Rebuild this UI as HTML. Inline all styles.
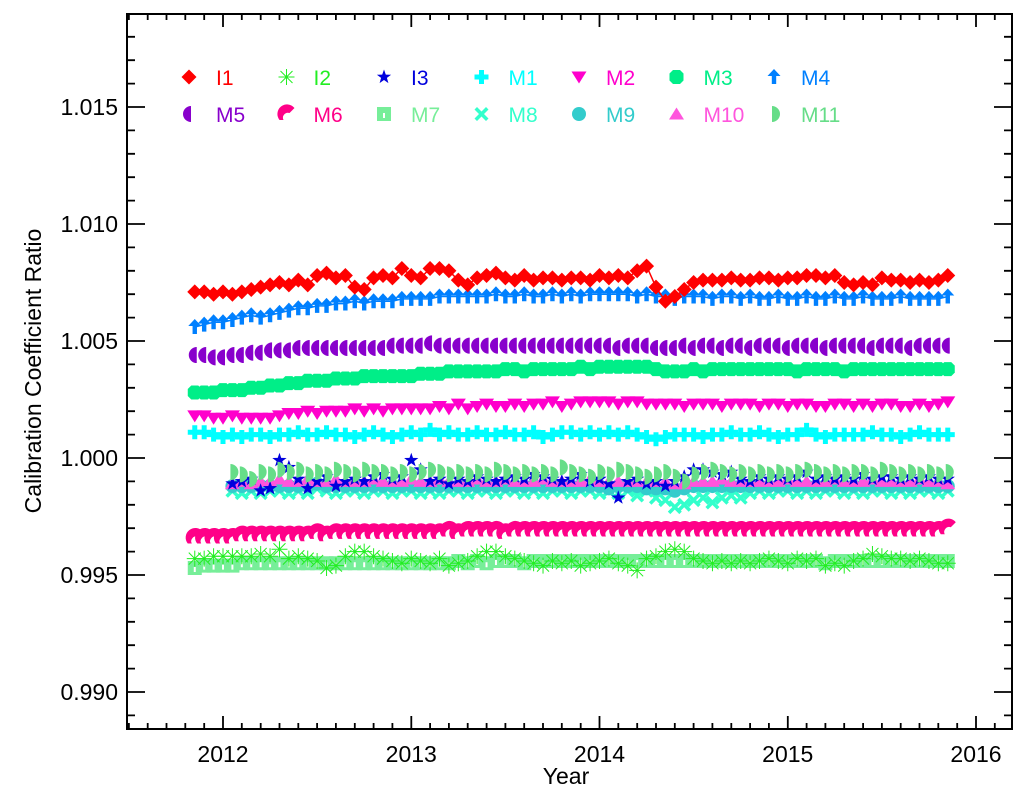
<!DOCTYPE html>
<html><head><meta charset="utf-8"><style>
html,body{margin:0;padding:0;background:#fff;}
svg{display:block;font-family:"Liberation Sans",Arial,sans-serif;}
</style></head><body>
<svg id="chart" width="1024" height="809" viewBox="0 0 1024 809" xmlns="http://www.w3.org/2000/svg">
<rect x="0" y="0" width="1024" height="809" fill="#fff"/>
<g id="plot"></g>
<g id="axes"></g>
<g id="legend"></g>
</svg>
<script>
const yTicks = [0.990, 0.995, 1.000, 1.005, 1.010, 1.015];
const yTickLabels = ["0.990", "0.995", "1.000", "1.005", "1.010", "1.015"];
const xTicks = [2012, 2013, 2014, 2015, 2016];
const xTickLabels = ["2012", "2013", "2014", "2015", "2016"];
const tStart = 2011.85;
const tStep = 0.05;

const I1 = [1.0071,1.0071,1.0070,1.0071,1.0070,1.0071,1.0072,1.0073,1.0074,1.0075,1.0074,
1.0076,1.0074,1.0078,1.0079,1.0077,1.0078,1.0073,1.0072,1.0077,1.0078,
1.0077,1.0081,1.0078,1.0077,1.0081,1.0081,1.0080,1.0076,1.0074,1.0077,
1.0078,1.0079,1.0077,1.0076,1.0078,1.0076,1.0077,1.0077,1.0076,1.0077,
1.0077,1.0076,1.0078,1.0077,1.0078,1.0077,1.0080,1.0082,1.0073,1.0067,
1.0069,1.0072,1.0075,1.0076,1.0076,1.0076,1.0077,1.0076,1.0076,1.0077,
1.0077,1.0076,1.0077,1.0077,1.0078,1.0078,1.0077,1.0078,1.0075,1.0074,
1.0075,1.0074,1.0077,1.0076,1.0076,1.0075,1.0076,1.0075,1.0076,1.0078];
const M4 = [1.0056,1.0057,1.0058,1.0058,1.0059,1.0060,1.0061,1.0060,1.0061,1.0062,1.0063,
1.0064,1.0064,1.0065,1.0065,1.0066,1.0066,1.0067,1.0066,1.0067,1.0067,
1.0067,1.0068,1.0068,1.0068,1.0068,1.0069,1.0069,1.0069,1.0069,1.0069,
1.0069,1.0070,1.0069,1.0069,1.0070,1.0069,1.0069,1.0070,1.0069,1.0070,
1.0069,1.0070,1.0070,1.0070,1.0070,1.0070,1.0069,1.0070,1.0069,1.0069,
1.0068,1.0069,1.0069,1.0069,1.0068,1.0069,1.0069,1.0068,1.0069,1.0068,
1.0068,1.0069,1.0068,1.0068,1.0069,1.0068,1.0068,1.0069,1.0068,1.0068,
1.0069,1.0068,1.0068,1.0068,1.0069,1.0068,1.0068,1.0068,1.0068,1.0069];
const M5 = [1.0044,1.0044,1.0043,1.0043,1.0044,1.0044,1.0045,1.0045,1.0046,1.0046,1.0046,
1.0047,1.0047,1.0047,1.0047,1.0047,1.0047,1.0047,1.0047,1.0047,1.0047,
1.0048,1.0048,1.0048,1.0048,1.0049,1.0048,1.0048,1.0048,1.0048,1.0048,
1.0048,1.0048,1.0048,1.0048,1.0048,1.0048,1.0048,1.0048,1.0048,1.0048,
1.0048,1.0048,1.0048,1.0048,1.0047,1.0048,1.0048,1.0048,1.0047,1.0047,
1.0047,1.0048,1.0047,1.0048,1.0048,1.0047,1.0048,1.0048,1.0047,1.0048,
1.0048,1.0048,1.0047,1.0048,1.0048,1.0048,1.0047,1.0048,1.0048,1.0048,
1.0048,1.0047,1.0048,1.0048,1.0048,1.0047,1.0048,1.0048,1.0048,1.0048];
const M3 = [1.0028,1.0028,1.0028,1.0029,1.0029,1.0029,1.0030,1.0030,1.0031,1.0031,1.0032,
1.0032,1.0033,1.0033,1.0033,1.0034,1.0034,1.0034,1.0035,1.0035,1.0035,
1.0035,1.0035,1.0035,1.0036,1.0036,1.0036,1.0037,1.0037,1.0037,1.0037,
1.0037,1.0037,1.0038,1.0038,1.0037,1.0038,1.0038,1.0038,1.0038,1.0038,
1.0039,1.0038,1.0039,1.0039,1.0039,1.0039,1.0039,1.0039,1.0038,1.0037,
1.0037,1.0037,1.0038,1.0037,1.0038,1.0038,1.0038,1.0038,1.0038,1.0038,
1.0038,1.0038,1.0038,1.0037,1.0038,1.0038,1.0038,1.0038,1.0037,1.0038,
1.0038,1.0038,1.0038,1.0038,1.0038,1.0038,1.0038,1.0038,1.0038,1.0038];
const M2 = [1.0018,1.0018,1.0017,1.0017,1.0018,1.0017,1.0017,1.0017,1.0017,1.0018,1.0019,
1.0019,1.0020,1.0019,1.0020,1.0020,1.0020,1.0021,1.0020,1.0021,1.0020,
1.0021,1.0021,1.0021,1.0021,1.0021,1.0022,1.0021,1.0023,1.0021,1.0022,
1.0023,1.0022,1.0022,1.0023,1.0022,1.0023,1.0023,1.0024,1.0022,1.0023,
1.0024,1.0024,1.0024,1.0024,1.0023,1.0024,1.0024,1.0023,1.0023,1.0023,
1.0023,1.0022,1.0023,1.0023,1.0023,1.0022,1.0023,1.0023,1.0023,1.0022,
1.0023,1.0023,1.0022,1.0023,1.0023,1.0022,1.0022,1.0023,1.0023,1.0022,
1.0023,1.0022,1.0023,1.0023,1.0022,1.0022,1.0023,1.0022,1.0023,1.0024];
const M1 = [1.0011,1.0011,1.0010,1.0009,1.0010,1.0009,1.0010,1.0010,1.0009,1.0010,1.0010,
1.0011,1.0010,1.0010,1.0011,1.0010,1.0010,1.0009,1.0010,1.0011,1.0010,
1.0009,1.0010,1.0011,1.0010,1.0012,1.0010,1.0011,1.0010,1.0010,1.0011,
1.0010,1.0010,1.0011,1.0010,1.0010,1.0011,1.0009,1.0010,1.0011,1.0011,
1.0010,1.0011,1.0010,1.0011,1.0010,1.0011,1.0010,1.0009,1.0008,1.0009,
1.0010,1.0010,1.0010,1.0009,1.0010,1.0010,1.0011,1.0010,1.0010,1.0011,
1.0010,1.0009,1.0010,1.0010,1.0012,1.0010,1.0009,1.0010,1.0010,1.0010,
1.0010,1.0011,1.0010,1.0010,1.0009,1.0010,1.0011,1.0010,1.0010,1.0010];
const M6 = [0.9966,0.9966,0.9966,0.9966,0.9966,0.9967,0.9967,0.9967,0.9967,0.9967,0.9967,
0.9967,0.9967,0.9968,0.9967,0.9968,0.9968,0.9968,0.9968,0.9968,0.9968,
0.9968,0.9968,0.9968,0.9968,0.9968,0.9968,0.9969,0.9968,0.9969,0.9969,
0.9969,0.9969,0.9968,0.9969,0.9969,0.9969,0.9969,0.9969,0.9969,0.9969,
0.9969,0.9969,0.9969,0.9969,0.9969,0.9969,0.9969,0.9969,0.9969,0.9969,
0.9969,0.9969,0.9969,0.9969,0.9969,0.9969,0.9969,0.9969,0.9969,0.9969,
0.9969,0.9969,0.9969,0.9969,0.9969,0.9969,0.9969,0.9969,0.9969,0.9969,
0.9969,0.9969,0.9969,0.9969,0.9969,0.9969,0.9969,0.9969,0.9969,0.9970];
const M7 = [0.9953,0.9954,0.9954,0.9954,0.9954,0.9955,0.9955,0.9955,0.9955,0.9955,0.9955,
0.9955,0.9955,0.9955,0.9955,0.9955,0.9955,0.9955,0.9955,0.9955,0.9955,
0.9955,0.9955,0.9955,0.9955,0.9955,0.9955,0.9955,0.9956,0.9955,0.9956,
0.9955,0.9956,0.9956,0.9956,0.9955,0.9956,0.9956,0.9956,0.9956,0.9956,
0.9956,0.9956,0.9956,0.9956,0.9956,0.9956,0.9956,0.9956,0.9956,0.9956,
0.9956,0.9956,0.9956,0.9956,0.9956,0.9956,0.9956,0.9956,0.9956,0.9956,
0.9956,0.9956,0.9956,0.9956,0.9956,0.9956,0.9955,0.9956,0.9956,0.9956,
0.9956,0.9956,0.9956,0.9956,0.9956,0.9956,0.9956,0.9956,0.9956,0.9956];
const I2 = [0.9957,0.9957,0.9958,0.9958,0.9958,0.9958,0.9958,0.9959,0.9958,0.9961,0.9957,
0.9958,0.9957,0.9956,0.9953,0.9954,0.9958,0.9960,0.9960,0.9958,0.9957,
0.9956,0.9955,0.9957,0.9956,0.9955,0.9957,0.9954,0.9955,0.9956,0.9958,
0.9960,0.9960,0.9958,0.9957,0.9956,0.9955,0.9954,0.9956,0.9955,0.9956,
0.9954,0.9955,0.9956,0.9957,0.9955,0.9954,0.9952,0.9957,0.9958,0.9960,
0.9961,0.9960,0.9957,0.9956,0.9955,0.9956,0.9955,0.9956,0.9955,0.9956,
0.9957,0.9956,0.9955,0.9957,0.9956,0.9957,0.9954,0.9955,0.9954,0.9956,
0.9957,0.9959,0.9958,0.9957,0.9957,0.9956,0.9957,0.9956,0.9955,0.9955];
const M11 = [null,null,null,null,0.9994,0.9993,0.9991,0.9994,0.9993,0.9995,0.9994,
0.9995,0.9993,0.9994,0.9993,0.9995,0.9994,0.9993,0.9995,0.9994,0.9994,
0.9993,0.9994,0.9993,0.9994,0.9995,0.9994,0.9993,0.9994,0.9993,0.9994,
0.9993,0.9995,0.9994,0.9993,0.9994,0.9993,0.9994,0.9993,0.9996,0.9994,
0.9993,0.9992,0.9994,0.9993,0.9995,0.9994,0.9993,0.9992,0.9993,0.9994,
0.9992,0.9990,0.9993,0.9994,0.9995,0.9994,0.9993,0.9994,0.9993,0.9994,
0.9993,0.9994,0.9993,0.9994,0.9995,0.9994,0.9993,0.9994,0.9993,0.9994,
0.9994,0.9993,0.9995,0.9994,0.9993,0.9994,0.9993,0.9994,0.9993,0.9994];
const M10 = [null,null,null,null,0.9989,0.9990,0.9989,0.9990,0.9990,0.9991,0.9990,
0.9990,0.9991,0.9990,0.9990,0.9991,0.9990,0.9990,0.9990,0.9991,0.9990,
0.9990,0.9990,0.9991,0.9990,0.9990,0.9991,0.9990,0.9990,0.9990,0.9991,
0.9990,0.9990,0.9991,0.9990,0.9990,0.9990,0.9991,0.9990,0.9990,0.9990,
0.9990,0.9991,0.9990,0.9990,0.9990,0.9990,0.9990,0.9990,0.9990,0.9990,
0.9989,0.9989,0.9990,0.9990,0.9990,0.9991,0.9990,0.9990,0.9990,0.9990,
0.9990,0.9990,0.9991,0.9990,0.9990,0.9990,0.9990,0.9991,0.9990,0.9990,
0.9990,0.9991,0.9990,0.9990,0.9990,0.9990,0.9991,0.9990,0.9990,0.9989];
const M9 = [null,null,null,null,0.9988,0.9988,0.9988,0.9988,0.9988,0.9988,0.9988,
0.9988,0.9988,0.9989,0.9988,0.9988,0.9988,0.9988,0.9988,0.9988,0.9988,
0.9988,0.9988,0.9988,0.9988,0.9988,0.9988,0.9988,0.9988,0.9988,0.9988,
0.9988,0.9988,0.9988,0.9988,0.9988,0.9988,0.9988,0.9988,0.9988,0.9988,
0.9988,0.9988,0.9988,0.9987,0.9988,0.9988,0.9988,0.9987,0.9987,0.9987,
0.9986,0.9987,0.9988,0.9988,0.9988,0.9988,0.9988,0.9988,0.9988,0.9988,
0.9988,0.9988,0.9988,0.9988,0.9988,0.9988,0.9988,0.9988,0.9988,0.9988,
0.9988,0.9988,0.9988,0.9988,0.9988,0.9988,0.9988,0.9988,0.9988,0.9988];
const M8 = [null,null,null,null,0.9986,0.9985,0.9986,0.9985,0.9986,0.9986,0.9985,
0.9986,0.9985,0.9987,0.9986,0.9985,0.9986,0.9986,0.9985,0.9986,0.9986,
0.9985,0.9986,0.9986,0.9985,0.9986,0.9985,0.9986,0.9986,0.9985,0.9986,
0.9986,0.9985,0.9986,0.9986,0.9985,0.9986,0.9985,0.9986,0.9986,0.9985,
0.9986,0.9986,0.9985,0.9986,0.9985,0.9986,0.9984,0.9986,0.9983,0.9982,
0.9979,0.9980,0.9982,0.9983,0.9981,0.9983,0.9984,0.9983,0.9985,0.9986,
0.9985,0.9986,0.9986,0.9985,0.9986,0.9985,0.9986,0.9986,0.9985,0.9986,
0.9985,0.9986,0.9986,0.9985,0.9986,0.9985,0.9986,0.9986,0.9985,0.9986];
const I3 = [null,null,null,null,0.9989,0.9990,0.9991,0.9986,0.9987,0.9999,0.9996,
0.9991,0.9987,0.9990,0.9992,0.9988,0.9990,0.9991,0.9990,0.9992,0.9993,
0.9991,0.9992,0.9999,0.9995,0.9990,0.9991,0.9989,0.9991,0.9990,0.9992,
0.9991,0.9990,0.9991,0.9992,0.9991,0.9993,0.9992,0.9991,0.9990,0.9991,
0.9993,0.9990,0.9991,0.9989,0.9983,0.9990,0.9991,0.9989,0.9990,0.9988,
0.9990,0.9992,0.9995,0.9995,0.9994,0.9993,0.9994,0.9991,0.9990,0.9992,
0.9991,0.9992,0.9991,0.9992,0.9994,0.9991,0.9992,0.9991,0.9992,0.9991,
0.9993,0.9991,0.9992,0.9992,0.9991,0.9992,0.9991,0.9992,0.9991,0.9991];

const seriesNames = ["I1","I2","I3","M1","M2","M3","M4","M5","M6","M7","M8","M9","M10","M11"];
const seriesColors = ["#ff0000","#22ee22","#0000dd","#00ffff","#ff00cc","#00ee88","#0080ff","#8800cc","#ff0088","#77ee99","#33ffcc","#33cccc","#ff55dd","#66dd88"];
const seriesMarkers = ["diamond","asterisk","star","plus","tridown","hex","arrow","halfleft","crescent","sqdot","cross","circle","triup","halfright"];
const seriesData = {I1,I2,I3,M1,M2,M3,M4,M5,M6,M7,M8,M9,M10,M11};
const drawOrder = ["M7","I2","M6","M8","M9","M10","I3","M11","M1","M2","M3","M5","M4","I1"];
const showLine = {I1:true,M4:true};

const X0 = 127, X1 = 1012, Y0 = 14, Y1 = 729;
function xScale(t){ return 223 + (t - 2012) * 188.25; }
function yScale(v){ return 458 - (v - 1) * 23400; }
const NS = "http://www.w3.org/2000/svg";
function mk(tag, attrs, parent){
  const e = document.createElementNS(NS, tag);
  for (const k in attrs) e.setAttribute(k, attrs[k]);
  parent.appendChild(e);
  return e;
}
function marker(type, x, y, c, parent){
  let e;
  switch(type){
    case "diamond": e = mk("polygon",{points:`${x},${y-7.5} ${x+7.5},${y} ${x},${y+7.5} ${x-7.5},${y}`,fill:c},parent); break;
    case "asterisk": e = mk("path",{d:`M${x-8},${y}H${x+8}M${x},${y-8}V${y+8}M${x-6},${y-6}L${x+6},${y+6}M${x-6},${y+6}L${x+6},${y-6}`,stroke:c,"stroke-width":1,fill:"none"},parent); break;
    case "star": { let p=[]; for(let i=0;i<10;i++){const r=i%2?3:7.5;const a=-Math.PI/2+i*Math.PI/5;p.push((x+r*Math.cos(a)).toFixed(1)+","+(y+r*Math.sin(a)).toFixed(1));} e = mk("polygon",{points:p.join(" "),fill:c},parent); break; }
    case "plus": e = mk("path",{d:`M${x-7},${y-2.5}h4.5v-4.5h5v4.5h4.5v5h-4.5v4.5h-5v-4.5h-4.5z`,fill:c},parent); break;
    case "tridown": e = mk("polygon",{points:`${x-7.5},${y-5.5} ${x+7.5},${y-5.5} ${x},${y+6.5}`,fill:c},parent); break;
    case "triup": e = mk("polygon",{points:`${x-7.5},${y+5.5} ${x+7.5},${y+5.5} ${x},${y-6.5}`,fill:c},parent); break;
    case "hex": e = mk("polygon",{points:`${x-3.5},${y-7} ${x+3.5},${y-7} ${x+7},${y-3.5} ${x+7},${y+3.5} ${x+3.5},${y+7} ${x-3.5},${y+7} ${x-7},${y+3.5} ${x-7},${y-3.5}`,fill:c},parent); break;
    case "arrow": e = mk("path",{d:`M${x},${y-8}L${x+6.5},${y-1}H${x+2.2}V${y+7}H${x-2.2}V${y-1}H${x-6.5}z`,fill:c},parent); break;
    case "halfleft": e = mk("path",{d:`M${x+2},${y-8}A8,8 0 0 0 ${x+2},${y+8}z`,fill:c},parent); break;
    case "halfright": e = mk("path",{d:`M${x-2},${y-8}A8,8 0 0 1 ${x-2},${y+8}z`,fill:c},parent); break;
    case "crescent": e = mk("path",{d:`M${x-7},${y+6}A9,9 0 0 1 ${x+8},${y-6}L${x+3},${y-1}A5,5 0 0 0 ${x-3},${y+6}z`,fill:c},parent); break;
    case "sqdot": e = mk("path",{d:`M${x-7},${y-7}h14v14h-14z M${x-1},${y-1}h2v5h-2z`,fill:c,"fill-rule":"evenodd"},parent); break;
    case "cross": e = mk("path",{d:`M${x-4.5},${y-7}L${x},${y-2.5}L${x+4.5},${y-7}L${x+7},${y-4.5}L${x+2.5},${y}L${x+7},${y+4.5}L${x+4.5},${y+7}L${x},${y+2.5}L${x-4.5},${y+7}L${x-7},${y+4.5}L${x-2.5},${y}L${x-7},${y-4.5}z`,fill:c},parent); break;
    case "circle": e = mk("circle",{cx:x,cy:y,r:7,fill:c},parent); break;
  }
  return e;
}

const plot = document.getElementById("plot");
drawOrder.forEach(name => {
  const i = seriesNames.indexOf(name);
  const vals = seriesData[name];
  const g = mk("g",{},plot);
  
  
  let pts = [];
  vals.forEach((v,k) => { if (v !== null) pts.push([xScale(tStart + k*tStep), yScale(v)]); });
  if (showLine[name]) {
    const line = mk("polyline",{points:pts.map(p=>p[0].toFixed(1)+","+p[1].toFixed(1)).join(" "),fill:"none",stroke:seriesColors[i],"stroke-width":1.5},g);
    
    
  }
  pts.forEach(p => {
    const m = marker(seriesMarkers[i], p[0], p[1], seriesColors[i], g);
    
    
  });
});

const axes = document.getElementById("axes");
const frame = mk("rect",{x:X0,y:Y0,width:X1-X0,height:Y1-Y0,fill:"none",stroke:"#000","stroke-width":2},axes);


let tickPath = "";
for (let k = 0; k <= 31; k++) {
  const v = 0.988 + k*0.001;
  const y = yScale(v);
  if (y < Y0 || y > Y1) continue;
  const r = Math.round(v*1000) % 5;
  const L = r === 0 ? 18 : 8;
  tickPath += `M${X0},${y.toFixed(1)}h${L}M${X1},${y.toFixed(1)}h${-L}`;
}
for (let k = 0; k <= 50; k++) {
  const t = 2011.5 + k*0.1;
  const x = xScale(t);
  if (x <= X0 || x >= X1) continue;
  const major = Math.abs(t - Math.round(t)) < 0.01;
  const L = major ? 13 : 6;
  tickPath += `M${x.toFixed(1)},${Y1}v${-L}M${x.toFixed(1)},${Y0}v${L}`;
}
const ticks = mk("path",{d:tickPath,stroke:"#000","stroke-width":1.8,fill:"none"},axes);


yTicks.forEach((v,k) => {
  const t = mk("text",{x:118,y:yScale(v)+8,"text-anchor":"end","font-size":23,fill:"#000"},axes);
  t.textContent = yTickLabels[k];
  
  
});
xTicks.forEach((v,k) => {
  const t = mk("text",{x:xScale(v),y:762,"text-anchor":"middle","font-size":23,fill:"#000"},axes);
  t.textContent = xTickLabels[k];
  
  
});
const xt = mk("text",{x:566,y:784,"text-anchor":"middle","font-size":23,fill:"#000"},axes);
xt.textContent = "Year";


const yt = mk("text",{x:0,y:0,"text-anchor":"middle","font-size":23,fill:"#000",transform:"translate(41,371) rotate(-90)"},axes);
yt.textContent = "Calibration Coefficient Ratio";



const legend = document.getElementById("legend");
seriesNames.forEach((name,i) => {
  const col = i % 7, row = Math.floor(i/7);
  const mx = 189 + col*97.5, my = 77 + row*37;
  const g = mk("g",{},legend);
  
  
  marker(seriesMarkers[i], mx, my, seriesColors[i], g);
  const t = mk("text",{x:mx+27,y:my+8,"font-size":21,fill:seriesColors[i]},g);
  t.textContent = name;
});
</script>
</body></html>
